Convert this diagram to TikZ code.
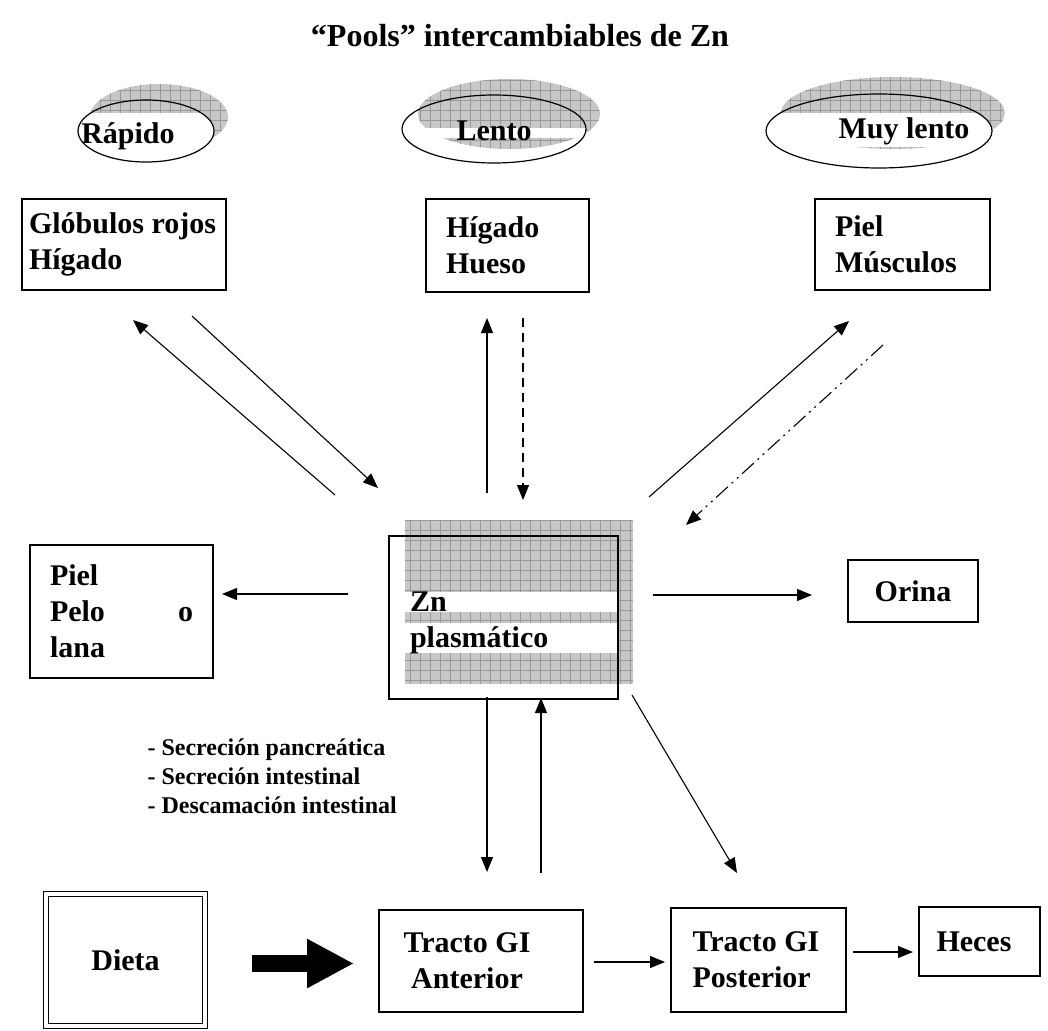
\documentclass[tikz,border=0pt]{standalone}
\usepackage{fontspec}
\setmainfont{Liberation Serif}
\usetikzlibrary{arrows.meta}

\newcommand{\lbl}{\fontsize{30}{36}\selectfont\bfseries}
\newcommand{\sml}{\fontsize{24}{29}\selectfont\bfseries}

\tikzset{
	box/.style={draw, line width=1.3pt, align=flush left, inner ysep=0pt, font=\lbl},
	conn/.style={line width=1.1pt, -{Triangle[length=15pt,width=12pt]}},
	poolfill/.style={fill=black!22},
	poolgrid/.style={draw=black!40, line width=0.5pt},
	ring/.style={line width=1.2pt}
}

\begin{document}
\begin{tikzpicture}[x=1pt,y=-1pt]
		\useasboundingbox (0,0) rectangle (1048,1030);
		
		\node[font=\fontsize{32}{36}\selectfont\bfseries, anchor=base] (title) at (520,47) {``Pools'' intercambiables de Zn};
		
		% pools
		\begin{scope}
			\clip (159,117) ellipse [x radius=69, y radius=33];
			\fill[poolfill] (90,150) rectangle (228,84);
			\draw[poolgrid, step=10pt] (90,150) grid (228,84);
		\end{scope}
		\begin{scope}
			\clip (146,131) ellipse [x radius=68, y radius=31];
			\fill[white] (78,113) rectangle (214,162);
		\end{scope}
		\draw[ring] (146,131) ellipse [x radius=68, y radius=31];
		\node[font=\lbl, anchor=base] (rapido) at (128,143) {Rápido};
		
		\begin{scope}
			\clip (509,114) ellipse [x radius=91, y radius=35];
			\fill[poolfill] (418,149) rectangle (600,79);
			\draw[poolgrid, step=10pt] (418,149) grid (600,79);
		\end{scope}
		\begin{scope}
			\clip (494,129) ellipse [x radius=92, y radius=34];
			\fill[white] (402,128) rectangle (586,138);
		\end{scope}
		\draw[ring] (494,129) ellipse [x radius=92, y radius=34];
		\node[font=\lbl, anchor=base] (lento) at (494,140) {Lento};
		
		\begin{scope}
			\clip (893,113) ellipse [x radius=112, y radius=36];
			\fill[poolfill] (781,149) rectangle (1005,77);
			\draw[poolgrid, step=10pt] (781,149) grid (1005,77);
		\end{scope}
		\begin{scope}
			\clip (879,131) ellipse [x radius=113, y radius=37];
			\fill[white] (766,113) rectangle (992,147);
		\end{scope}
		\draw[ring] (879,131) ellipse [x radius=113, y radius=37];
		\node[font=\lbl, anchor=base] (muylento) at (904,138) {Muy lento};
		
		% organs
		\node[box, minimum width=204pt, minimum height=91pt, inner xsep=7pt, text width=190pt] (globulos) at (124,244.5) {Glóbulos rojos\\Hígado};
		\node[box, minimum width=163pt, minimum height=93pt, inner xsep=20pt, text width=123pt] (higado) at (507.5,245.5) {Hígado\\Hueso};
		\node[box, minimum width=175pt, minimum height=91pt, inner xsep=20pt, text width=135pt] (musculos) at (902.5,244.5) {Piel\\Músculos};
		
		% plasma
		\fill[poolfill] (405,520) rectangle (633,684);
		\draw[poolgrid, step=10pt] (405,684) grid (633,520);
		\fill[white] (405,592) rectangle (618,612);
		\fill[white] (405,623) rectangle (618,653);
		\node[box, minimum width=229pt, minimum height=163pt, inner xsep=21pt, text width=187pt] (zn) at (503.5,617.5) {\rule{0pt}{30pt}Zn\\plasmático};
		
		\node[box, minimum width=183pt, minimum height=133pt, inner xsep=20pt, text width=143pt] (piel) at (121.5,611.5) {Piel\\Pelo\hfill o\\lana};
		\node[box, align=center, minimum width=130pt, minimum height=62pt] (orina) at (913,591) {Orina};
		
		\node[font=\sml, align=left, anchor=west] (secrecion) at (144,776) {- Secreción pancreática\\- Secreción intestinal\\- Descamación intestinal};
		
		% gut
		\node[box, double, double distance=4pt, align=center, minimum width=159pt, minimum height=132pt, inner sep=0pt] (dieta) at (125.5,960) {Dieta};
		\node[box, align=center, minimum width=204pt, minimum height=102pt] (anterior) at (481,961) {Tracto GI\hspace*{28pt}\\Anterior\hspace*{28pt}};
		\node[box, minimum width=175pt, minimum height=104pt, inner xsep=21.5pt, text width=132pt] (posterior) at (758.5,960) {Tracto GI\\Posterior};
		\node[box, minimum width=121pt, minimum height=69pt, inner xsep=17.5pt, text width=86pt] (heces) at (979.5,941.5) {Heces};
		
		% arrow ends
		\coordinate (zn-gl) at (335,495);
		\coordinate (gl-in) at (133,320);
		\coordinate (gl-out) at (192,316);
		\coordinate (zn-gl-in) at (378,488);
		\coordinate (zn-hi) at (487,493);
		\coordinate (hi-in) at (487,318);
		\coordinate (hi-out) at (523,318);
		\coordinate (zn-hi-in) at (523,500);
		\coordinate (zn-mu) at (649,497);
		\coordinate (mu-in) at (849,321);
		\coordinate (mu-out) at (883,345);
		\coordinate (zn-mu-in) at (686,525);
		\coordinate (zn-w) at (348,594);
		\coordinate (piel-in) at (222,594);
		\coordinate (zn-e) at (653,595);
		\coordinate (orina-in) at (812,595);
		\coordinate (zn-s) at (487,697);
		\coordinate (ant-in) at (487,872);
		\coordinate (ant-out) at (541,873);
		\coordinate (zn-s-in) at (541,698);
		\coordinate (zn-se) at (632,695);
		\coordinate (post-in) at (737,873);
		\coordinate (ant-e) at (594,962);
		\coordinate (post-w) at (665,962);
		\coordinate (post-e) at (853,952);
		\coordinate (heces-w) at (913,952);
		\coordinate (dieta-e) at (252,963.5);
		\coordinate (ant-w) at (354,963.5);
		
		\draw[conn] (zn-gl) -- (gl-in);
		\draw[conn] (gl-out) -- (zn-gl-in);
		\draw[conn] (zn-hi) -- (hi-in);
		\draw[conn, dash pattern=on 9pt off 6pt] (hi-out) -- (zn-hi-in);
		\draw[conn] (zn-mu) -- (mu-in);
		\draw[conn, dash pattern=on 16pt off 5pt on 2pt off 5pt on 2pt off 5pt] (mu-out) -- (zn-mu-in);
		\draw[conn] (zn-w) -- (piel-in);
		\draw[conn] (zn-e) -- (orina-in);
		\draw[conn] (zn-s) -- (ant-in);
		\draw[conn] (ant-out) -- (zn-s-in);
		\draw[conn] (zn-se) -- (post-in);
		\draw[conn] (ant-e) -- (post-w);
		\draw[conn] (post-e) -- (heces-w);
		\draw[line width=17pt, -{Triangle[length=47pt,width=46pt]}] (dieta-e) -- (ant-w);
	\end{tikzpicture}
\end{document}
